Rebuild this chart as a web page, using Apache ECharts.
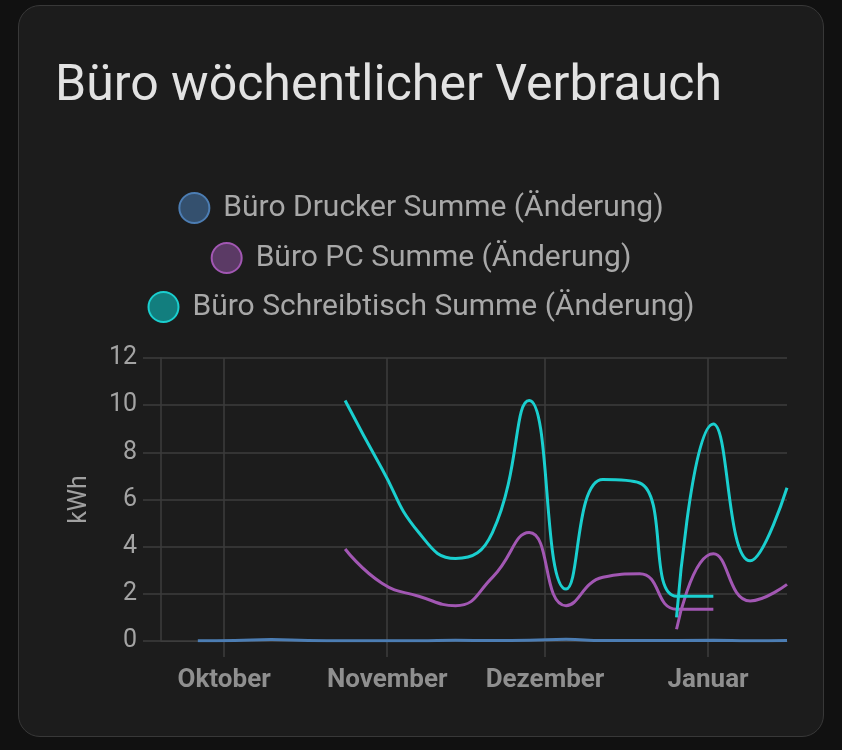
<!DOCTYPE html>
<html>
<head>
<meta charset="utf-8">
<script src="https://cdn.jsdelivr.net/npm/echarts@6/dist/echarts.min.js"></script>
<style>
  html, body { margin: 0; padding: 0; background: #111111; }
  .card {
    position: absolute; left: 18px; top: 5px; width: 804px; height: 730px;
    background: #1c1c1c; border: 1px solid #383838; border-radius: 22px;
  }
  #chart { position: absolute; left: 0; top: 0; width: 842px; height: 750px; }
</style>
</head>
<body>
<div class="card"></div>
<div id="chart"></div>
<script>
// Wochenwerte (kWh), Wochenbeginn jeweils Montag; null = Lücke in der Linie
const weeks = [
  '2022-09-26', '2022-10-03', '2022-10-10', '2022-10-17', '2022-10-24',
  '2022-10-31', '2022-11-07', '2022-11-14', '2022-11-21', '2022-11-28',
  '2022-12-05', '2022-12-12', '2022-12-19', '2022-12-26', '2023-01-02',
  '2023-01-02', '2022-12-26', '2023-01-02', '2023-01-09', '2023-01-16'
]
const drucker = [0.01, 0.02, 0.06, 0.02, 0.01, 0.01, 0.01, 0.03, 0.02, 0.03, 0.07, 0.02, 0.02, 0.02, 0.02, null, 0.02, 0.03, 0.01, 0.02]
const pc = [null, null, null, null, 3.9, 2.45, 1.9, 1.5, 2.7, 4.6, 1.5, 2.7, 2.85, 1.35, 1.35, null, 0.5, 3.7, 1.7, 2.4]
const schreibtisch = [null, null, null, null, 10.2, 7.3, 4.6, 3.5, 4.6, 10.2, 2.2, 6.85, 6.7, 1.9, 1.9, null, 1.0, 9.2, 3.4, 6.5]

const monthTicks = ['2022-10-01', '2022-11-01', '2022-12-01', '2023-01-01']
const monthNames = ['Januar', 'Februar', 'März', 'April', 'Mai', 'Juni', 'Juli', 'August', 'September', 'Oktober', 'November', 'Dezember']

const seriesNames = ['Büro Drucker Summe (Änderung)', 'Büro PC Summe (Änderung)', 'Büro Schreibtisch Summe (Änderung)']
const lineColors = ['#4c7db3', '#a257b3', '#1acfcf']
const fillColors = ['#34506e', '#5b3a65', '#127e7e']

const toTime = s => new Date(s + 'T00:00:00').getTime()
const toPairs = vals => vals.map((v, i) => [toTime(weeks[i]), v === null ? '-' : v])

const gridColor = '#3d3d3d'
const font = 'Roboto, "Noto Sans", sans-serif'

const chart = echarts.init(document.getElementById('chart'))

const legendTops = [192, 242, 291]
const legends = seriesNames.map((name, i) => ({
  data: [name],
  left: 'center',
  top: legendTops[i],
  padding: 0,
  icon: 'circle',
  itemWidth: 30,
  itemHeight: 30,
  itemStyle: { color: fillColors[i], borderColor: lineColors[i], borderWidth: 2 },
  textStyle: { color: '#a8a8a8', fontSize: 30, fontFamily: font, padding: [0, 0, 0, 9] },
  selectedMode: false
}))

chart.setOption({
  backgroundColor: 'transparent',
  animation: false,
  title: {
    text: 'Büro wöchentlicher Verbrauch',
    left: 50,
    top: 57,
    textStyle: { color: '#e2e2e2', fontSize: 50, fontWeight: 'normal', fontFamily: font }
  },
  legend: legends,
  grid: { left: 161, right: 55, top: 358, bottom: 109 },
  xAxis: {
    type: 'value',
    min: toTime('2022-09-19'),
    max: toTime('2023-01-16'),
    axisLine: { show: true, lineStyle: { color: gridColor } },
    axisTick: { show: true, length: 16, lineStyle: { color: gridColor, width: 1.5 }, customValues: monthTicks.map(toTime) },
    splitLine: { show: true, lineStyle: { color: gridColor, width: 1.5 } },
    axisLabel: {
      customValues: monthTicks.map(toTime),
      formatter: v => monthNames[new Date(v).getMonth()],
      color: '#8f8f8f',
      fontSize: 26,
      fontWeight: 'bold',
      fontFamily: font,
      margin: 26
    }
  },
  yAxis: {
    type: 'value',
    min: 0,
    max: 12,
    interval: 2,
    name: 'kWh',
    nameLocation: 'middle',
    nameGap: 69,
    nameTextStyle: { color: '#a0a0a0', fontSize: 25, fontFamily: font },
    axisLine: { show: true, lineStyle: { color: gridColor, width: 1.5 } },
    axisTick: { show: true, length: 18, lineStyle: { color: gridColor, width: 1.5 } },
    splitLine: { show: true, lineStyle: { color: gridColor, width: 1.5 } },
    axisLabel: { color: '#a3a3a3', fontSize: 25, fontFamily: font, margin: 24 }
  },
  series: [drucker, pc, schreibtisch].map((vals, i) => ({
    name: seriesNames[i],
    type: 'line',
    smooth: true,
    showSymbol: false,
    connectNulls: false,
    data: toPairs(vals),
    lineStyle: { color: lineColors[i], width: 3 },
    itemStyle: { color: fillColors[i], borderColor: lineColors[i] },
    z: 2 + i
  }))
})
</script>
</body>
</html>
